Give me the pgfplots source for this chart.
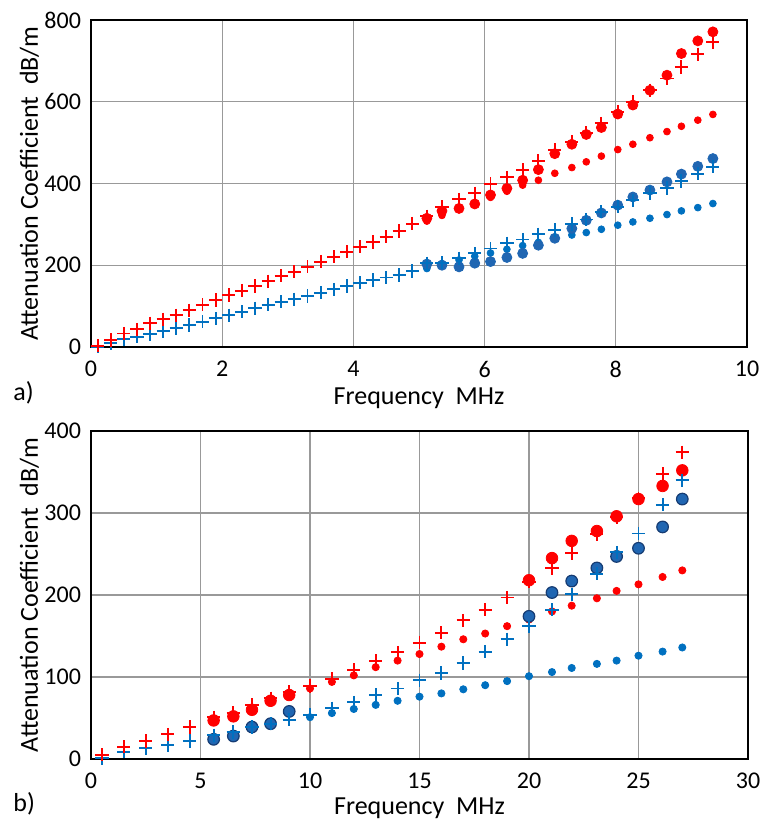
\documentclass[border=0pt]{standalone}
\usepackage{pgfplots}
\pgfplotsset{compat=1.18}
\usepackage{pgfplotstable}
\usepackage{fontspec}
\setmainfont{Carlito}
\definecolor{myred}{RGB}{255,0,0}
\definecolor{bplus}{RGB}{0,112,192}
\definecolor{bcirc}{RGB}{32,102,178}
\definecolor{bedge}{RGB}{22,60,115}

% ---------- top chart (a) ----------
\pgfplotstableread{
x y
0.1 3
0.3 17
0.5 33
0.7 43
0.9 58
1.1 68
1.3 78
1.5 90
1.7 103
1.9 115
2.1 127
2.3 138
2.5 149
2.7 161
2.9 174
3.1 184
3.3 196
3.5 209
3.7 221
3.9 233
4.1 245
4.3 257
4.5 270
4.7 284
4.9 302
5.12 320
5.35 343
5.61 361
5.85 376
6.09 399
6.34 415
6.58 433
6.82 456
7.07 482
7.33 502
7.55 524
7.78 547
8.03 575
8.26 600
8.52 628
8.78 657
9.0 685
9.25 716
9.48 746
}\aRedPlus
\pgfplotstableread{
x y
5.12 315
5.35 333
5.61 339
5.85 350
6.09 372
6.34 388
6.58 408
6.82 434
7.07 473
7.33 496
7.55 520
7.78 537
8.03 570
8.26 592
8.52 628
8.78 665
9.0 718
9.25 749
9.48 771
}\aRedBig
\pgfplotstableread{
x y
5.12 308
5.35 322
5.61 337
5.85 351
6.09 366
6.34 381
6.58 396
6.82 408
7.07 425
7.33 439
7.55 453
7.78 467
8.03 483
8.26 496
8.52 512
8.78 527
9.0 540
9.25 555
9.48 569
}\aRedSmall
\pgfplotstableread{
x y
0.1 1
0.3 9
0.5 19
0.7 25
0.9 32
1.1 39
1.3 46
1.5 54
1.7 62
1.9 70
2.1 78
2.3 86
2.5 95
2.7 103
2.9 111
3.1 117
3.3 125
3.5 133
3.7 141
3.9 149
4.1 157
4.3 164
4.5 170
4.7 176
4.9 186
5.12 205
5.35 206
5.61 217
5.85 229
6.09 241
6.34 254
6.58 263
6.82 276
7.07 286
7.33 301
7.55 312
7.78 331
8.03 343
8.26 359
8.52 377
8.78 389
9.0 406
9.25 424
9.48 441
}\aBluePlus
\pgfplotstableread{
x y
5.12 203
5.35 200
5.61 196
5.85 205
6.09 209
6.34 219
6.58 229
6.82 249
7.07 266
7.33 290
7.55 310
7.78 328
8.03 347
8.26 367
8.52 384
8.78 404
9.0 423
9.25 442
9.48 461
}\aBlueBig
\pgfplotstableread{
x y
5.12 192
5.35 204
5.61 213
5.85 222
6.09 230
6.34 239
6.58 248
6.82 256
7.07 265
7.33 274
7.55 280
7.78 288
8.03 298
8.26 306
8.52 315
8.78 324
9.0 333
9.25 341
9.48 351
}\aBlueSmall

% ---------- bottom chart (b) ----------
\pgfplotstableread{
x y
0.5 5
1.5 15
2.5 22
3.5 30
4.5 39
5.6 51
6.5 56
7.35 66
8.2 74
9.05 82
10 89
11 98
12 109
13 120
14 130
15 142
16 154
17 169
18 182
19 197
20 216
21.05 233
21.95 251
23.1 274
24 295
25 318
26.1 348
27 374
}\bRedPlus
\pgfplotstableread{
x y
5.6 47
6.5 52
7.35 60
8.2 71
9.05 78
20 218
21.05 245
21.95 266
23.1 278
24 296
25 317
26.1 333
27 352
}\bRedBig
\pgfplotstableread{
x y
10 86
11 94
12 102
13 112
14 120
15 128
16 137
17 146
18 153
19 162
20 170
21.05 180
21.95 187
23.1 196
24 205
25 213
26.1 222
27 230
}\bRedSmall
\pgfplotstableread{
x y
0.5 1
1.5 9
2.5 13
3.5 17
4.5 22
5.6 29
6.5 33
7.35 39
8.2 43
9.05 48
10 54
11 62
12 69
13 78
14 86
15 96
16 105
17 117
18 131
19 146
20 162
21.05 182
21.95 201
23.1 226
24 252
25 275
26.1 310
27 340
}\bBluePlus
\pgfplotstableread{
x y
5.6 24
6.5 28
7.35 39
8.2 43
9.05 58
20 174
21.05 203
21.95 217
23.1 233
24 247
25 257
26.1 283
27 317
}\bBlueBig
\pgfplotstableread{
x y
10 51
11 56
12 61
13 66
14 71
15 76
16 80
17 85
18 90
19 95
20 101
21.05 106
21.95 111
23.1 116
24 120
25 126
26.1 131
27 136
}\bBlueSmall

\pgfplotsset{
  myax/.style={
    scale only axis,
    axis line style={line width=1.3pt, black},
    grid=major,
    major grid style={draw=black!40, line width=0.6pt},
    major tick length=0pt,
    tick style={draw=none},
    ticklabel style={font=\fontsize{12}{14}\selectfont},
    xticklabel style={inner sep=0pt, yshift=-7pt},
    yticklabel style={xshift=-1.5pt},
    /pgf/number format/assume math mode=true,
    label style={font=\fontsize{13}{15}\selectfont},
    ylabel={Attenuation Coefficient\ \ dB/m},
    xlabel={Frequency\ \ MHz},
    ylabel style={at={(axis description cs:-0.081,0.5)}, anchor=base},
    clip=false,
  },
  pplus/.style={only marks, mark=+, mark size=3.3pt, line width=0.95pt},
}

\begin{document}
\begin{tikzpicture}
\path[use as bounding box] (0,0) rectangle (380.5pt,409.5pt);

\begin{axis}[myax,
  at={(45.5pt,236pt)}, anchor=south west,
  width=328pt, height=163.5pt,
  xmin=0, xmax=10, ymin=0, ymax=800,
  xtick={0,2,...,10}, ytick={0,200,...,800},
  xlabel style={at={(axis description cs:0.5,-0.175)}, anchor=base, inner sep=0pt},
]
\addplot[only marks, mark=*, mark size=1.7pt, color=myred] table {\aRedSmall};
\addplot[only marks, mark=*, mark size=2.5pt, color=myred] table {\aRedBig};
\addplot[only marks, mark=*, mark size=1.7pt, color=bplus] table {\aBlueSmall};
\addplot[only marks, mark=*, mark size=2.5pt, draw=bcirc, fill=bcirc] table {\aBlueBig};
\addplot[pplus, color=bplus] table {\aBluePlus};
\addplot[pplus, color=myred] table {\aRedPlus};
\end{axis}

\begin{axis}[myax,
  at={(45.5pt,30pt)}, anchor=south west,
  width=328.5pt, height=164pt,
  xmin=0, xmax=30, ymin=0, ymax=400,
  xtick={0,5,...,30}, ytick={0,100,...,400},
  xlabel style={at={(axis description cs:0.5,-0.168)}, anchor=base, inner sep=0pt},
]
\addplot[only marks, mark=*, mark size=1.8pt, color=myred] table {\bRedSmall};
\addplot[only marks, mark=*, mark size=1.8pt, color=bplus] table {\bBlueSmall};
\addplot[only marks, mark=*, mark size=2.9pt, color=myred] table {\bRedBig};
\addplot[only marks, mark=*, mark size=2.9pt, draw=bedge, fill=bcirc, line width=0.6pt] table {\bBlueBig};
\addplot[pplus, color=bplus] table {\bBluePlus};
\addplot[pplus, color=myred] table {\bRedPlus};
\end{axis}

\node[anchor=base west, font=\fontsize{13}{15}\selectfont, inner sep=0pt] at (6.5pt,209pt) {a)};
\node[anchor=base west, font=\fontsize{13}{15}\selectfont, inner sep=0pt] at (6.5pt,3.5pt) {b)};
\end{tikzpicture}
\end{document}
